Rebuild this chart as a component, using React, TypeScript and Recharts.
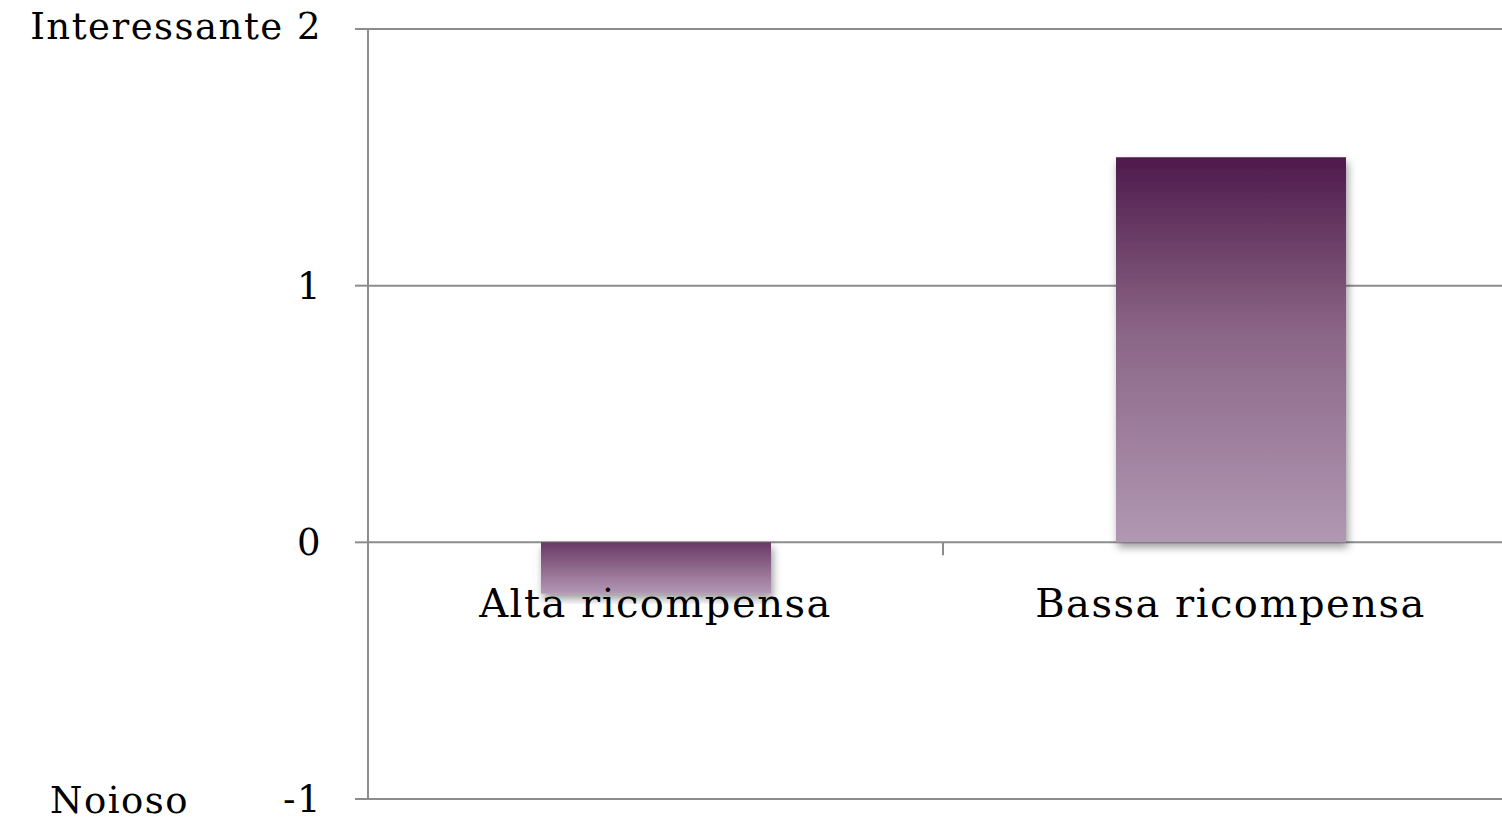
import { BarChart, Bar, Cell, XAxis, YAxis, CartesianGrid, ReferenceDot, ReferenceLine } from 'recharts'

const categories = ['Alta ricompensa', 'Bassa ricompensa']
const values = [-0.2, 1.5]
const yTicks = [-1, 0, 1, 2]
const yNotes: Record<number, string> = { 2: 'Interessante', [-1]: 'Noioso' }

const data = categories.map((name, i) => ({ name, value: values[i], pos: i + 0.5 }))

const FONT = '"DejaVu Serif", serif'
const GRID = '#8c8c8c'

function YTick({ x, y, payload }: any) {
  const v = payload.value as number
  const common = { fontFamily: FONT, fontSize: 37, letterSpacing: 1.5, fill: '#000' }
  if (v === 2) {
    return (
      <text x={x} y={y} dy={10} textAnchor="end" {...common}>
        {yNotes[2]} {v}
      </text>
    )
  }
  return (
    <g>
      {v === -1 && (
        <text x={x - 272} y={y} dy={14} textAnchor="start" {...common}>
          {yNotes[-1]}
        </text>
      )}
      <text x={x} y={y} dy={13} textAnchor="end" {...common}>
        {v}
      </text>
    </g>
  )
}

export default function App() {
  return (
    <div style={{ position: 'absolute', left: 0, top: 0, width: 1502, height: 821, overflow: 'hidden', background: '#fff' }}>
      <BarChart width={1518} height={821} data={data} margin={{ top: 29, right: 0, left: 0, bottom: 22 }} barSize={230}>
        <defs>
          <linearGradient id="gradPos" x1="0" y1="0" x2="0" y2="1">
            <stop offset="0%" stopColor="#4e1a4b" />
            <stop offset="45%" stopColor="#8a6586" />
            <stop offset="100%" stopColor="#b198b2" />
          </linearGradient>
          <linearGradient id="gradNeg" x1="0" y1="0" x2="0" y2="1">
            <stop offset="0%" stopColor="#6a3866" />
            <stop offset="100%" stopColor="#b499b5" />
          </linearGradient>
          <filter id="shadow" x="-10%" y="-10%" width="120%" height="130%">
            <feDropShadow dx="2" dy="5" stdDeviation="4" floodColor="#000" floodOpacity="0.4" />
          </filter>
        </defs>
        <CartesianGrid vertical={false} stroke={GRID} strokeWidth={2} />
        <XAxis dataKey="name" hide />
        <XAxis xAxisId="num" dataKey="pos" type="number" domain={[0, 2]} allowDataOverflow hide />
        <YAxis
          domain={[-1, 2]}
          ticks={yTicks}
          width={368}
          stroke={GRID}
          strokeWidth={2}
          tickSize={13}
          tickMargin={33}
          tick={<YTick />}
          interval={0}
        />
        <ReferenceLine
          xAxisId="num"
          segment={[{ x: 1, y: 0 }, { x: 1, y: -0.05 }]}
          stroke={GRID}
          strokeWidth={2}
          ifOverflow="visible"
        />
        <Bar dataKey="value" isAnimationActive={false} filter="url(#shadow)">
          {data.map((d) => (
            <Cell key={d.name} fill={d.value < 0 ? 'url(#gradNeg)' : 'url(#gradPos)'} />
          ))}
        </Bar>
        {categories.map((c) => (
          <ReferenceDot
            key={c}
            x={c}
            y={0}
            r={1}
            fill="none"
            stroke="none"
            label={{ value: c, position: 'bottom', offset: 45, fontSize: 40, letterSpacing: 1.5, fill: '#000', fontFamily: FONT }}
          />
        ))}
      </BarChart>
    </div>
  )
}
